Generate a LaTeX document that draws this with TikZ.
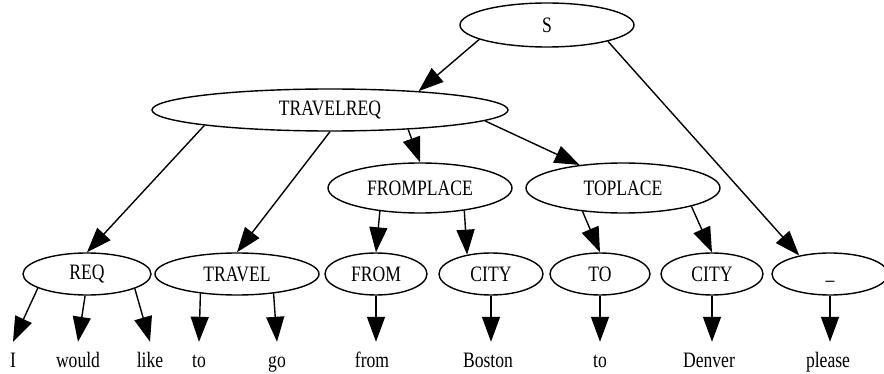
\documentclass[tikz,border=0pt]{standalone}
\usepackage{fontspec}
\setmainfont[FakeStretch=0.8]{Liberation Serif}
\usepackage{tikz}
\usetikzlibrary{shapes.geometric,arrows.meta,positioning}

\begin{document}
\begin{tikzpicture}[x=1pt, y=-1pt, every node/.style={font=\fontsize{22}{25}\selectfont}]

    % Styles for the parse tree
    \tikzset{
        treenode/.style={draw=black, ellipse, line width=1.4pt, inner sep=0pt},
        wordnode/.style={anchor=base, inner xsep=0pt, inner ysep=11pt, text height=14pt, text depth=5pt},
        edge/.style={-{Triangle[length=25pt, width=18pt]}, line width=1.4pt, black}
    }

    \useasboundingbox (0,0) rectangle (884,374);

    % Upper levels
    \node[treenode, minimum width=174pt, minimum height=44pt] (s) at (547,25) {S};
    \node[treenode, minimum width=356pt, minimum height=42pt] (travelreq) at (330,110) {TRAVELREQ};
    \node[treenode, minimum width=184pt, minimum height=50pt] (fromplace) at (420,188) {FROMPLACE};
    \node[treenode, minimum width=194pt, minimum height=50pt] (toplace) at (623,188) {TOPLACE};

    % Pre-terminal row
    \node[treenode, minimum width=128pt, minimum height=42pt] (req) at (87,274) {REQ};
    \node[treenode, minimum width=164pt, minimum height=42pt] (travel) at (237,274) {TRAVEL};
    \node[treenode, minimum width=102pt, minimum height=42pt] (fromn) at (376,274) {FROM};
    \node[treenode, minimum width=104pt, minimum height=42pt] (cityA) at (491,274) {CITY};
    \node[treenode, minimum width=100pt, minimum height=42pt] (ton) at (600,274) {TO};
    \node[treenode, minimum width=102pt, minimum height=42pt] (cityB) at (712,274) {CITY};
    \node[treenode, minimum width=116pt, minimum height=42pt] (rest) at (830,274) {\vphantom{C}\_};

    % Words
    \node[wordnode] (wI) at (13,367) {I};
    \node[wordnode] (wwould) at (78,367) {would};
    \node[wordnode] (wlike) at (150,367) {like};
    \node[wordnode] (wto) at (199,367) {to};
    \node[wordnode] (wgo) at (277,367) {go};
    \node[wordnode] (wfrom) at (372,367) {from};
    \node[wordnode] (wboston) at (488,367) {Boston};
    \node[wordnode] (wtoB) at (600,367) {to};
    \node[wordnode] (wdenver) at (709,367) {Denver};
    \node[wordnode] (wplease) at (828,367) {please};

    % Tree edges
    \draw[edge] (s.-168) -- (travelreq.12);
    \draw[edge] (s.-15) -- (rest.149);
    \draw[edge] (travelreq.-173) -- (req.north);
    \draw[edge] (travelreq.-90) -- (travel.north);
    \draw[edge] (travelreq.-14) -- (fromplace.north);
    \draw[edge] (travelreq.-4) -- (toplace.152);
    \draw[edge] (fromplace.-150) -- (fromn.north);
    \draw[edge] (fromplace.-27) -- (cityA.141);
    \draw[edge] (toplace.-150) -- (ton.north);
    \draw[edge] (toplace.-15) -- (cityB.north);

    % Edges down to the words
    \draw[edge] (req.-164) -- (wI.north);
    \draw[edge] (req.-95) -- (wwould.north);
    \draw[edge] (req.-17) -- (wlike.north);
    \draw[edge] (travel.-152) -- (wto.north);
    \draw[edge] (travel.-28) -- (wgo.north);
    \draw[edge] (fromn.south) -- (fromn.south |- wfrom.north);
    \draw[edge] (cityA.south) -- (cityA.south |- wboston.north);
    \draw[edge] (ton.south) -- (ton.south |- wtoB.north);
    \draw[edge] (cityB.south) -- (cityB.south |- wdenver.north);
    \draw[edge] (rest.south) -- (rest.south |- wplease.north);

\end{tikzpicture}
\end{document}
